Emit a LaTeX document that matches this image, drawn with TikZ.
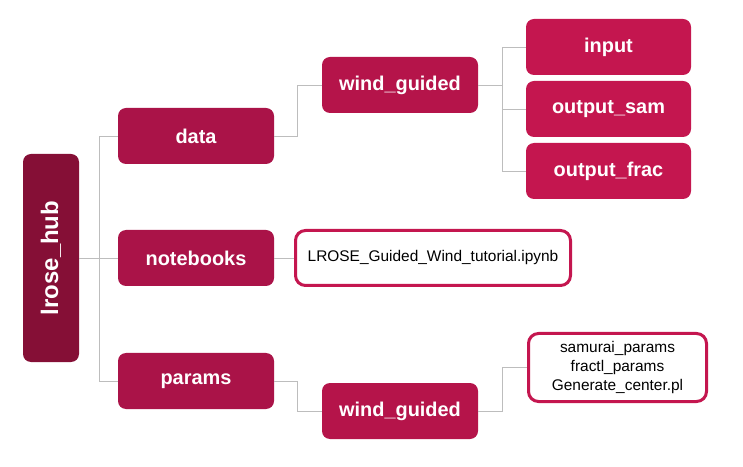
\documentclass[tikz,border=0pt]{standalone}
\usepackage{fontspec}
\setmainfont{Liberation Sans}
\definecolor{hubred}{HTML}{850F36}
\definecolor{dirred}{HTML}{AA1348}
\definecolor{subred}{HTML}{B5144A}
\definecolor{leafred}{HTML}{C4164F}
\definecolor{linkgray}{HTML}{BDBDBD}
\tikzset{
  dirbox/.style={rounded corners=8bp,text=white,font=\fontsize{20}{24}\selectfont\bfseries,
                 minimum width=156bp,minimum height=56bp,inner sep=0pt},
  filebox/.style={rounded corners=10bp,draw=leafred,line width=3bp,fill=white,
                  font=\fontsize{15.5}{19.5}\selectfont,inner sep=0pt,align=center},
  link/.style={draw=linkgray,line width=0.9bp}
}
\begin{document}
\begin{tikzpicture}[x=1bp,y=-1bp]
  \useasboundingbox (0,0) rectangle (743,467);
  % root
  \node[dirbox,fill=hubred,rotate=90,minimum width=208bp,
        font=\fontsize{24}{29}\selectfont\bfseries] (hub) at (51,258) {lrose\_hub};
  % first level
  \node[dirbox,fill=dirred] (data)      at (196,136) {data};
  \node[dirbox,fill=dirred] (notebooks) at (196,258) {notebooks};
  \node[dirbox,fill=dirred] (params)    at (196,381) {params};
  % second level
  \node[dirbox,fill=subred] (windA) at (400,85)  {wind\_guided};
  \node[dirbox,fill=subred] (windB) at (400,411) {wind\_guided};
  \node[filebox,minimum width=275bp,minimum height=55bp] (nbfile) at (433,258)
        {LROSE\_Guided\_Wind\_tutorial.ipynb};
  % third level
  \node[dirbox,fill=leafred,minimum width=165bp] (input)  at (608.5,47)  {input};
  \node[dirbox,fill=leafred,minimum width=165bp] (outsam) at (608.5,109) {output\_sam};
  \node[dirbox,fill=leafred,minimum width=165bp] (outfrc) at (608.5,171) {output\_frac};
  \node[filebox,minimum width=178bp,minimum height=68bp] (pfiles) at (617.5,367.5)
        {samurai\_params\\fractl\_params\\Generate\_center.pl};
  % connectors
  \draw[link] (hub.south) -- ++(20,0) |- (data.west);
  \draw[link] (hub.south) -- (notebooks.west);
  \draw[link] (hub.south) -- ++(20,0) |- (params.west);
  \draw[link] (data.east) -- ++(23,0) |- (windA.west);
  \draw[link] (notebooks.east) -- (nbfile.west);
  \draw[link] (params.east) -- ++(23,0) |- (windB.west);
  \draw[link] (windA.east) -- ++(24,0) |- (input.west);
  \draw[link] (windA.east) -- ++(24,0) |- (outsam.west);
  \draw[link] (windA.east) -- ++(24,0) |- (outfrc.west);
  \draw[link] (windB.east) -- ++(24,0) |- (pfiles.west);
\end{tikzpicture}
\end{document}
